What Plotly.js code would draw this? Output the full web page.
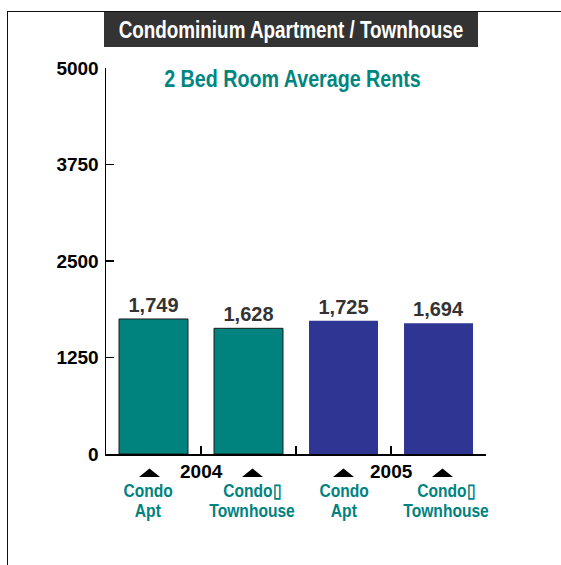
<!DOCTYPE html>
<html>
<head>
<meta charset="utf-8">
<script src="https://cdn.plot.ly/plotly-3.0.1.min.js"></script>
<style>
  html, body { margin: 0; padding: 0; background: #fff; }
  #wrap { position: relative; width: 561px; height: 565px; overflow: hidden; }
  #chart { position: absolute; left: 0; top: 0; width: 561px; height: 565px; }
  #frame { position: absolute; left: 7px; top: 11px; width: 600px; height: 600px;
           border-left: 1px solid #111; border-top: 1px solid #111; pointer-events: none; }
</style>
</head>
<body>
<div id="wrap">
  <div id="chart"></div>
  <div id="frame"></div>
</div>
<script>
// ---- data ----
const years = ['2004', '2005'];
const types = ['Condo Apt', 'Condo Townhouse'];
const typeLine1 = ['Condo', 'Condo\u25AF'];
const typeLine2 = ['Apt', 'Townhouse'];
const rents = [1749, 1628, 1725, 1694];
const yTicks = [0, 1250, 2500, 3750, 5000];
const chartTitle = 'Condominium Apartment / Townhouse';
const chartSubtitle = '2 Bed Room Average Rents';

// ---- style ----
const TEAL = '#00827f';
const BLUE = '#2e3592';
const yearColors = [TEAL, BLUE];
const yearLine = ['#1a1a1a', BLUE];
const yearLineW = [1, 0];
const SANS = '"Liberation Sans", Arial, Helvetica, sans-serif';
const NARROW_SCALE = 0.82;   // condensed look (no narrow face installed)
const labelShift = [-6, 3, 0, 7];
const triShift = [-4, 4, 0, 4];

const cats = [], colors = [], lineC = [], lineW = [];
years.forEach((y, yi) => types.forEach(t => {
  cats.push(y + ' ' + t);
  colors.push(yearColors[yi]);
  lineC.push(yearLine[yi]);
  lineW.push(yearLineW[yi]);
}));

const trace = {
  type: 'bar',
  x: cats,
  y: rents,
  width: 0.726,
  marker: { color: colors, line: { color: lineC, width: lineW } },
  text: rents.map(v => v.toLocaleString('en-US')),
  textposition: 'outside',
  textfont: { family: SANS, size: 20, color: '#333333', weight: 'bold' },
  cliponaxis: false,
  hoverinfo: 'none'
};

const annotations = [];
const narrow = [];
const shapes = [];

// title box
annotations.push({
  xref: 'paper', yref: 'paper', x: (291 - 106) / 380, y: (454 - 29.5) / 386,
  xanchor: 'center', yanchor: 'middle', showarrow: false,
  text: chartTitle,
  font: { family: SANS, size: 23, color: '#ffffff', weight: 'bold' },
  bgcolor: '#333333', width: 374, height: 35, borderpad: 0, borderwidth: 0
});
narrow.push(true);
// subtitle
annotations.push({
  xref: 'paper', yref: 'paper', x: (292.5 - 106) / 380, y: (454 - 78) / 386,
  xanchor: 'center', yanchor: 'middle', showarrow: false,
  text: chartSubtitle,
  font: { family: SANS, size: 24, color: '#00857f', weight: 'bold' }
});
narrow.push(true);
// year labels
years.forEach((y, yi) => {
  annotations.push({
    xref: 'x', yref: 'y', x: yi * types.length + (types.length - 1) / 2, y: 0,
    yshift: -17, xanchor: 'center', yanchor: 'middle', showarrow: false,
    text: y,
    font: { family: SANS, size: 19, color: '#000000', weight: 'bold' }
  });
  narrow.push(false);
});
// category labels + triangles
cats.forEach((c, i) => {
  const ti = i % types.length;
  annotations.push({
    xref: 'x', yref: 'y', x: c, y: 0, yshift: -36.5, xshift: labelShift[i],
    xanchor: 'center', yanchor: 'middle', showarrow: false,
    text: typeLine1[ti], font: { family: SANS, size: 19, color: TEAL, weight: 'bold' }
  });
  narrow.push(true);
  annotations.push({
    xref: 'x', yref: 'y', x: c, y: 0, yshift: -56, xshift: labelShift[i],
    xanchor: 'center', yanchor: 'middle', showarrow: false,
    text: typeLine2[ti], font: { family: SANS, size: 19, color: TEAL, weight: 'bold' }
  });
  narrow.push(true);
  const d = triShift[i];
  shapes.push({
    type: 'path', xref: 'x', yref: 'paper', xsizemode: 'pixel', ysizemode: 'pixel',
    xanchor: c, yanchor: 0,
    path: `M${d - 10.5},-23 L${d + 10.5},-23 L${d},-14.5 Z`,
    fillcolor: '#000000', line: { width: 0 }, layer: 'above'
  });
});

const layout = {
  width: 561, height: 565,
  margin: { l: 106, r: 75, t: 68, b: 111, pad: 0 },
  paper_bgcolor: '#ffffff', plot_bgcolor: '#ffffff',
  showlegend: false,
  xaxis: {
    type: 'category', range: [-0.5, cats.length - 0.5],
    showline: true, linecolor: '#000', linewidth: 1.5,
    ticks: 'inside', tickson: 'boundaries', ticklen: 8, tickwidth: 1.5, tickcolor: '#000',
    showticklabels: false, showgrid: false, zeroline: false, fixedrange: true
  },
  yaxis: {
    range: [0, 5000], tickvals: yTicks, ticktext: yTicks.map(String),
    showline: true, linecolor: '#000', linewidth: 1.5,
    ticks: 'inside', ticklen: 8, tickwidth: 1.5, tickcolor: '#000',
    ticklabelstandoff: 2,
    tickfont: { family: SANS, size: 19, color: '#000', weight: 'bold' },
    showgrid: false, zeroline: false, fixedrange: true
  },
  annotations: annotations,
  shapes: shapes
};

Plotly.newPlot('chart', [trace], layout, { displayModeBar: false, staticPlot: true }).then(gd => {
  gd.querySelectorAll('g.annotation').forEach(g => {
    const idx = +g.getAttribute('data-index');
    if (!narrow[idx]) return;
    const t = g.querySelector('text.annotation-text');
    if (!t) return;
    const w = t.getComputedTextLength();
    t.setAttribute('textLength', (w * NARROW_SCALE).toFixed(1));
    t.setAttribute('lengthAdjust', 'spacingAndGlyphs');
  });
});
</script>
</body>
</html>
